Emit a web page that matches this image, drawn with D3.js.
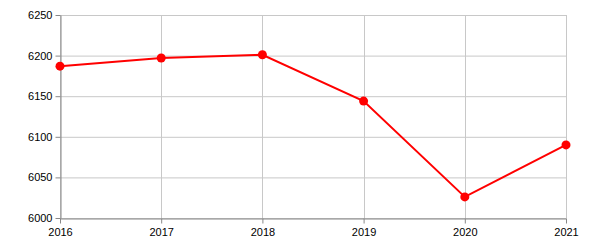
<!DOCTYPE html>
<html>
<head>
<meta charset="utf-8">
<script src="https://cdn.jsdelivr.net/npm/d3@7"></script>
<style>
  body { margin: 0; background: #fff; }
  text { font-family: "Liberation Sans", Arial, sans-serif; }
</style>
</head>
<body>
<script>
// data
const years = [2016, 2017, 2018, 2019, 2020, 2021];
const values = [6187, 6197, 6201, 6144, 6026, 6090];
const yTicks = [6000, 6050, 6100, 6150, 6200, 6250];

const w = 600;
const h = 250;
const margin = {top: 15, right: 34, bottom: 32, left: 60};

const svg = d3.select("body")
    .append("svg")
    .attr("width", w)
    .attr("height", h);

const x = d3.scaleLinear()
    .domain(d3.extent(years))
    .range([margin.left, w - margin.right]);

const y = d3.scaleLinear()
    .domain([6000, 6250])
    .range([h - margin.bottom, margin.top]);

// grid
svg.append("g")
    .selectAll("line.h")
    .data(yTicks)
    .join("line")
    .attr("x1", margin.left)
    .attr("x2", w - margin.right)
    .attr("y1", d => y(d) + 0.5)
    .attr("y2", d => y(d) + 0.5)
    .attr("stroke", "#c8c8c8");

svg.append("g")
    .selectAll("line.v")
    .data(years)
    .join("line")
    .attr("x1", d => Math.round(x(d)) + 0.5)
    .attr("x2", d => Math.round(x(d)) + 0.5)
    .attr("y1", margin.top)
    .attr("y2", h - margin.bottom)
    .attr("stroke", "#c8c8c8");

// axes
const xAxis = g => g
    .attr("transform", `translate(0,${h - margin.bottom + 0.5})`)
    .call(d3.axisBottom(x).tickValues(years).tickFormat(d3.format("d")).tickSize(5).tickSizeOuter(0))
    .call(g => g.selectAll("path, line").attr("stroke", "#888"))
    .call(g => g.selectAll("text").attr("fill", "#000").attr("font-size", 11).attr("dy", "0.9em"));

const yAxis = g => g
    .attr("transform", `translate(${margin.left + 0.5},0)`)
    .call(d3.axisLeft(y).tickValues(yTicks).tickFormat(d3.format("d")).tickSize(5).tickSizeOuter(0))
    .call(g => g.selectAll("path, line").attr("stroke", "#888"))
    .call(g => g.selectAll("text").attr("fill", "#000").attr("font-size", 11));

svg.append("g").call(xAxis);
svg.append("g").call(yAxis);

// line
const data = years.map((yr, i) => [yr, values[i]]);

svg.append("path")
    .datum(data)
    .attr("fill", "none")
    .attr("stroke", "#ff0000")
    .attr("stroke-width", 2)
    .attr("d", d3.line().x(d => x(d[0])).y(d => y(d[1])));

svg.append("g")
    .selectAll("circle")
    .data(data)
    .join("circle")
    .attr("cx", d => x(d[0]))
    .attr("cy", d => y(d[1]))
    .attr("r", 4.5)
    .attr("fill", "#ff0000");
</script>
</body>
</html>
